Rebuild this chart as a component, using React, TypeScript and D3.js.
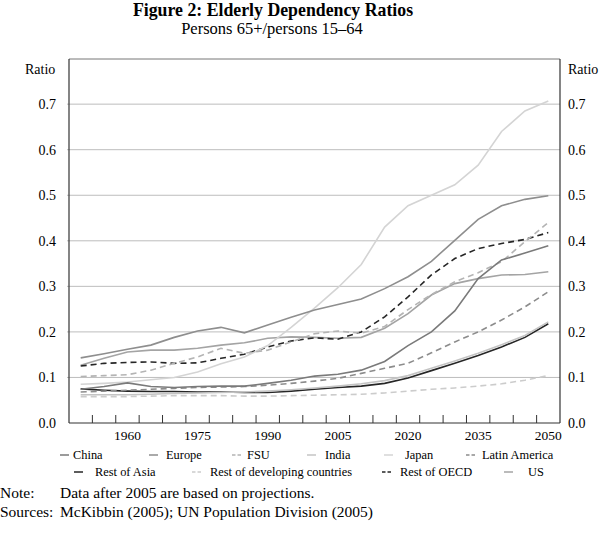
import React, { useEffect, useRef } from "react";
import * as d3 from "d3";

const years = [
  "1950", "1955", "1960", "1965", "1970", "1975", "1980", "1985", "1990", "1995", "2000",
  "2005", "2010", "2015", "2020", "2025", "2030", "2035", "2040", "2045", "2050",
];
const yearLabels = ["1960", "1975", "1990", "2005", "2020", "2035", "2050"];
const yTicks = [0, 0.1, 0.2, 0.3, 0.4, 0.5, 0.6, 0.7];

const china = [0.074, 0.08, 0.088, 0.08, 0.078, 0.08, 0.081, 0.081, 0.087, 0.094, 0.103, 0.107, 0.116, 0.135, 0.17, 0.2, 0.246, 0.317, 0.358, 0.373, 0.389];
const europe = [0.143, 0.152, 0.162, 0.171, 0.188, 0.202, 0.21, 0.198, 0.215, 0.232, 0.248, 0.26, 0.272, 0.295, 0.321, 0.355, 0.401, 0.447, 0.477, 0.491, 0.499];
const fsu = [0.102, 0.104, 0.106, 0.116, 0.131, 0.145, 0.164, 0.153, 0.16, 0.178, 0.196, 0.202, 0.197, 0.212, 0.249, 0.282, 0.31, 0.33, 0.354, 0.398, 0.44];
const india = [0.062, 0.062, 0.062, 0.063, 0.065, 0.066, 0.067, 0.068, 0.07, 0.073, 0.077, 0.081, 0.086, 0.093, 0.104, 0.12, 0.136, 0.153, 0.172, 0.192, 0.222];
const japan = [0.085, 0.087, 0.09, 0.095, 0.1, 0.112, 0.13, 0.145, 0.17, 0.21, 0.252, 0.297, 0.348, 0.43, 0.477, 0.5, 0.523, 0.566, 0.64, 0.685, 0.707];
const latinAmerica = [0.068, 0.07, 0.072, 0.074, 0.076, 0.078, 0.079, 0.08, 0.083, 0.087, 0.092, 0.098, 0.109, 0.12, 0.131, 0.154, 0.178, 0.2, 0.226, 0.255, 0.288];
const restOfAsia = [0.075, 0.072, 0.07, 0.069, 0.069, 0.068, 0.068, 0.067, 0.067, 0.07, 0.074, 0.078, 0.081, 0.087, 0.099, 0.115, 0.131, 0.148, 0.167, 0.188, 0.218];
const restOfDeveloping = [0.058, 0.058, 0.058, 0.059, 0.06, 0.06, 0.06, 0.059, 0.059, 0.06, 0.061, 0.062, 0.063, 0.066, 0.07, 0.074, 0.077, 0.081, 0.086, 0.094, 0.104];
const restOfOECD = [0.125, 0.131, 0.133, 0.134, 0.131, 0.132, 0.142, 0.151, 0.167, 0.18, 0.187, 0.184, 0.2, 0.233, 0.277, 0.325, 0.361, 0.383, 0.394, 0.403, 0.418];
const us = [0.127, 0.142, 0.156, 0.16, 0.16, 0.164, 0.171, 0.176, 0.186, 0.189, 0.188, 0.186, 0.188, 0.208, 0.24, 0.281, 0.306, 0.317, 0.325, 0.326, 0.332];

const series = [
  { name: "China", values: china, color: "#7a7a7a", dash: false },
  { name: "Europe", values: europe, color: "#8e8e8e", dash: false },
  { name: "FSU", values: fsu, color: "#b4b4b4", dash: true },
  { name: "India", values: india, color: "#c4c4c4", dash: false },
  { name: "Japan", values: japan, color: "#d4d4d4", dash: false },
  { name: "Latin America", values: latinAmerica, color: "#8c8c8c", dash: true },
  { name: "Rest of Asia", values: restOfAsia, color: "#262626", dash: false },
  { name: "Rest of developing countries", values: restOfDeveloping, color: "#cccccc", dash: true },
  { name: "Rest of OECD", values: restOfOECD, color: "#262626", dash: true },
  { name: "US", values: us, color: "#a4a4a4", dash: false },
];

// legend slots: [dash start x, text x, row y]
const legendPos = [
  [60, 73, 459], [149, 166, 459], [232, 247, 459], [307, 325, 459], [384, 405, 459], [466, 482, 459],
  [74, 95, 476], [192, 210, 476], [382, 400, 476], [504, 528, 476],
];

const FONT = "'Liberation Serif', 'Times New Roman', serif";

const App = () => {
  const ref = useRef<SVGSVGElement>(null);

  useEffect(() => {
    const svg = d3.select(ref.current);
    svg.selectAll("*").remove();

    const left = 69;
    const right = 560;
    const top = 59;
    const bottom = 423;

    const x = d3.scaleBand().domain(years).range([left, right]);
    const y = d3.scaleLinear().domain([0, 0.8]).range([bottom, 58.6]);
    const cx = (d: string) => (x(d) as number) + x.bandwidth() / 2;

    svg
      .append("text")
      .attr("x", 273)
      .attr("y", 16)
      .attr("text-anchor", "middle")
      .style("font-weight", "bold")
      .style("font-size", "17.8px")
      .text("Figure 2: Elderly Dependency Ratios");
    svg
      .append("text")
      .attr("x", 272)
      .attr("y", 34)
      .attr("text-anchor", "middle")
      .style("font-size", "16.5px")
      .text("Persons 65+/persons 15–64");

    // gridlines
    svg
      .append("g")
      .selectAll("line")
      .data(yTicks.slice(1))
      .join("line")
      .attr("x1", left - 2)
      .attr("x2", right)
      .attr("y1", (d) => y(d))
      .attr("y2", (d) => y(d))
      .attr("stroke", "#bdbdbd")
      .attr("stroke-width", 1);

    svg
      .append("line")
      .attr("x1", left)
      .attr("x2", right)
      .attr("y1", top)
      .attr("y2", top)
      .attr("stroke", "#777")
      .attr("stroke-width", 1);

    // y labels both sides
    const yl = svg.append("g").style("font-size", "14px");
    yl.selectAll("text.l")
      .data(yTicks)
      .join("text")
      .attr("class", "l")
      .attr("x", 56)
      .attr("y", (d) => y(d) + 5)
      .attr("text-anchor", "end")
      .text((d) => d3.format(".1f")(d));
    yl.append("g")
      .selectAll("text")
      .data(yTicks)
      .join("text")
      .attr("x", 568)
      .attr("y", (d) => y(d) + 5)
      .text((d) => d3.format(".1f")(d));
    yl.append("text").attr("x", 25).attr("y", 74).text("Ratio");
    yl.append("text").attr("x", 568).attr("y", 74).text("Ratio");

    // series
    const line = d3
      .line<number>()
      .x((_, i) => cx(years[i]))
      .y((d) => y(d));
    svg
      .append("g")
      .selectAll("path")
      .data([...series].reverse())
      .join("path")
      .attr("d", (d) => line(d.values))
      .attr("fill", "none")
      .attr("stroke", (d) => d.color)
      .attr("stroke-width", 1.6)
      .attr("stroke-dasharray", (d) => (d.dash ? "6,4" : null));

    // axes
    svg
      .append("line")
      .attr("x1", left)
      .attr("x2", left)
      .attr("y1", top)
      .attr("y2", bottom)
      .attr("stroke", "#333")
      .attr("stroke-width", 1.2);
    svg
      .append("line")
      .attr("x1", right)
      .attr("x2", right)
      .attr("y1", top)
      .attr("y2", bottom)
      .attr("stroke", "#333")
      .attr("stroke-width", 1.2);
    svg
      .append("line")
      .attr("x1", left)
      .attr("x2", right)
      .attr("y1", bottom)
      .attr("y2", bottom)
      .attr("stroke", "#333")
      .attr("stroke-width", 1.2);

    svg
      .append("g")
      .selectAll("line")
      .data(years.slice(1))
      .join("line")
      .attr("x1", (d) => x(d) as number)
      .attr("x2", (d) => x(d) as number)
      .attr("y1", bottom)
      .attr("y2", bottom - 8)
      .attr("stroke", "#333")
      .attr("stroke-width", 1);

    svg
      .append("g")
      .style("font-size", "13.5px")
      .selectAll("text")
      .data(yearLabels)
      .join("text")
      .attr("x", (d) => cx(d))
      .attr("y", 440)
      .attr("text-anchor", "middle")
      .text((d) => d);

    // legend
    const lg = svg.append("g").style("font-size", "12.4px");
    series.forEach((s, i) => {
      const [lx, tx, ly] = legendPos[i];
      lg.append("line")
        .attr("x1", lx)
        .attr("x2", lx + 9)
        .attr("y1", ly - 4)
        .attr("y2", ly - 4)
        .attr("stroke", s.color)
        .attr("stroke-width", 1.5)
        .attr("stroke-dasharray", s.dash ? "3.5,2" : null);
      lg.append("text").attr("x", tx).attr("y", ly).text(s.name);
    });

    // notes
    const nt = svg.append("g").style("font-size", "15.5px");
    nt.append("text").attr("x", 0).attr("y", 498).text("Note:");
    nt.append("text").attr("x", 60).attr("y", 498).text("Data after 2005 are based on projections.");
    nt.append("text").attr("x", 0).attr("y", 517).text("Sources:");
    nt.append("text").attr("x", 60).attr("y", 517).text("McKibbin (2005); UN Population Division (2005)");
  }, []);

  return (
    <svg
      ref={ref}
      width={600}
      height={533}
      style={{ position: "absolute", left: 0, top: 0, fontFamily: FONT, background: "#fff" }}
    />
  );
};

export default App;
